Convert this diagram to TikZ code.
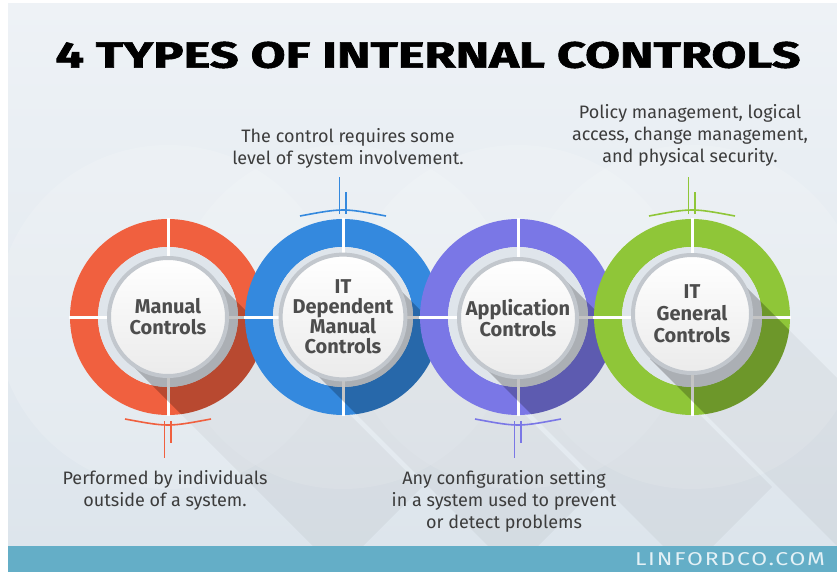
\documentclass[tikz,border=0pt]{standalone}
\usepackage{graphicx}
\usepackage{fontspec}
\setmainfont{Fira Sans}
\newfontfamily\titlefont{Fira Sans}[UprightFont=* Bold,UprightFeatures={FakeBold=1.5}]
\usetikzlibrary{positioning}

\definecolor{bgTop}{HTML}{EEF2F6}
\definecolor{bgBot}{HTML}{DDE5EC}
\definecolor{barTeal}{HTML}{64AEC7}
\definecolor{siteText}{HTML}{E4F1F6}
\definecolor{noteText}{HTML}{3C3C3C}
\definecolor{btnText}{HTML}{4D4D4D}
\definecolor{btnRim}{HTML}{C2C7CD}
\definecolor{btnLow}{HTML}{EBEBEB}
\definecolor{bandGray}{HTML}{DFE5EB}
\definecolor{redRing}{HTML}{F0603F}
\definecolor{blueRing}{HTML}{3489DE}
\definecolor{purpleRing}{HTML}{7A77E6}
\definecolor{greenRing}{HTML}{8FC638}

\begin{document}
\begin{tikzpicture}
[x=1pt,y=-1pt,
  ringDecorate/.style={fill=#1,even odd rule},
  gapDecorate/.style={draw=white,line width=3pt},
  shadowDecorate/.style={fill=black,opacity=#1},
  buttonDecorate/.style={shape=circle,inner sep=0pt,minimum size=118pt,
    top color=white,bottom color=btnLow,draw=btnRim,line width=4pt,
    align=center,text=btnText,font=\bfseries\fontsize{20}{21}\selectfont},
  noteDecorate/.style={align=center,text=noteText,font=\fontsize{18}{22}\selectfont},
  tickDecorate/.style={draw=#1,line width=1.6pt}]
\useasboundingbox (0,0) rectangle (837,572);
%% background
\fill[white] (0,0) rectangle (837,572);
\shade[top color=bgTop,bottom color=bgBot] (8,4) rectangle (837,546);
\begin{scope}
  \clip (8,4) rectangle (837,546);
  \foreach \x in {168,343,518,692}
  {
    \fill[white,opacity=0.14] (\x,317) circle (172);
  }
  %% rings with their long shadows
  \foreach \ringname/\x/\col in {
    manual/168/redRing,
    itdep/343/blueRing,
    app/518/purpleRing,
    itgen/692/greenRing}
  {
    \fill[ringDecorate=\col] (\x,317) circle (98) (\x,317) circle (70);
    \fill[bandGray] (\x,317) circle (70);
    \draw[gapDecorate] (\x-99,317) -- (\x+99,317);
    \draw[gapDecorate] (\x,218) -- (\x,416);
    \begin{scope}
      \clip (\x,317) circle (98);
      \fill[shadowDecorate=0.2] (\x+42,275) -- (\x+254,487) -- (\x+170,571) -- (\x-42,359) -- cycle;
    \end{scope}
    \fill[shadowDecorate=0.04] (\x+42,275) -- (\x+254,487) -- (\x+170,571) -- (\x-42,359) -- cycle;
  }
\end{scope}
%% title and footer
\node (title) at (428,55) [inner sep=0pt] {\resizebox{745pt}{26pt}{\titlefont 4 TYPES OF INTERNAL CONTROLS}};
\fill[barTeal] (8,546) rectangle (837,572);
\node (site) at (730,559) [inner sep=0pt,text=siteText]
  {\resizebox{190pt}{13pt}{\addfontfeatures{LetterSpace=8}LINFORDCO.COM}};
%% buttons
\node (manual) at (168,317) [buttonDecorate] {Manual\\Controls};
\node (itdep) at (343,317) [buttonDecorate,font=\bfseries\fontsize{20}{20}\selectfont] {IT\\Dependent\\Manual\\Controls};
\node (app) at (518,318) [buttonDecorate] {Application\\Controls};
\node (itgen) at (692,314) [buttonDecorate,font=\bfseries\fontsize{20}{22}\selectfont] {IT\\General\\Controls};
%% ticks
\foreach \x/\y/\s/\col in {
  168/419/1/redRing,
  343/216/-1/blueRing,
  518/419/1/purpleRing,
  692/216/-1/greenRing}
{
  \draw[tickDecorate=\col] (\x-43,\y) .. controls (\x,\y+8*\s) .. (\x+43,\y);
  \draw[tickDecorate=\col] (\x-3.5,\y+2*\s) -- (\x-3.5,\y+39*\s);
  \draw[tickDecorate=\col] (\x+3,\y+2*\s) -- (\x+3,\y+24*\s);
}
%% notes
\node (itdepNote) at (348,148) [noteDecorate] {The control requires some\\level of system involvement.};
\node (itgenNote) at (690,135) [noteDecorate] {Policy management, logical\\access, change management,\\and physical security.};
\node (manualNote) at (165,490) [noteDecorate] {Performed by individuals\\outside of a system.};
\node (appNote) at (504,501) [noteDecorate] {Any configuration setting\\in a system used to prevent\\or detect problems};
\end{tikzpicture}
\end{document}
